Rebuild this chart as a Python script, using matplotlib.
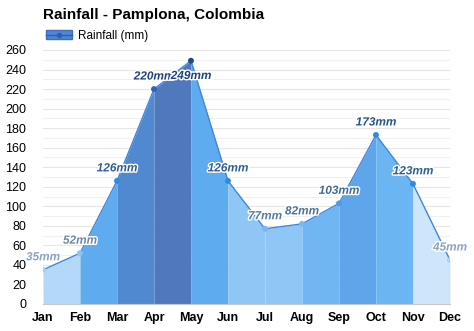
import matplotlib
matplotlib.use("Agg")
import matplotlib.pyplot as plt
import matplotlib.patheffects as pe
from matplotlib.lines import Line2D
from matplotlib.patches import Patch

months = ["Jan", "Feb", "Mar", "Apr", "May", "Jun", "Jul", "Aug", "Sep", "Oct", "Nov", "Dec"]
rain = [35, 52, 126, 220, 249, 126, 77, 82, 103, 173, 123, 45]
labels = [f"{v}mm" for v in rain]

# fill colour for each segment between two months
seg_colors = ["#b3d8f8", "#5eabef", "#5189d1", "#5079bd", "#5eabef", "#8ec6f5",
              "#8ec6f5", "#6fb6f3", "#5ea6e9", "#6bb5f3", "#cfe5f9"]
marker_colors = ["#a9cff2", "#8fc0ee", "#2d8ae2", "#2f64b3", "#1f4a86", "#2d8ae2",
                 "#7fb6ea", "#7fb6ea", "#4f9de6", "#2d8ae2", "#2d8ae2", "#a9cff2"]
label_colors = ["#8ca2bd", "#6f86a8", "#2f5d96", "#1f4280", "#1f4280", "#2f5d96",
                "#5a7aa0", "#4f6f99", "#3e6a9c", "#24528d", "#2f5d96", "#8ca2bd"]

plt.rcParams['font.family'] = ['Liberation Sans', 'DejaVu Sans']

fig = plt.figure(figsize=(4.74, 3.31), dpi=100)
ax = fig.add_axes([0.0907, 0.0816, 0.8586, 0.7674])

x = list(range(len(months)))
for i in range(len(months) - 1):
    ax.fill_between([x[i], x[i + 1]], [rain[i], rain[i + 1]], 0,
                    color=seg_colors[i], linewidth=0, zorder=2)
ax.plot(x, rain, color="#3f86dc", linewidth=1, zorder=3)
ax.scatter(x, rain, s=18, c=marker_colors, zorder=4, linewidths=0)

for i, (xi, v) in enumerate(zip(x, rain)):
    dy = -11 if v == max(rain) else 9
    ax.annotate(labels[i], (xi, v), xytext=(0, dy), textcoords="offset points",
                ha="center", va="center", fontsize=8.5, fontweight="bold",
                fontstyle="italic", color=label_colors[i], zorder=5,
                path_effects=[pe.withStroke(linewidth=2, foreground="white")])

ax.set_xlim(0, 11)
ax.set_ylim(0, 260)
ax.set_yticks(range(0, 261, 20))
ax.set_yticks(range(0, 261, 10), minor=True)
ax.set_xticks(x)
ax.set_xticklabels(months, fontweight="bold", fontsize=9)
ax.tick_params(axis="y", labelsize=9, length=0, pad=12, which="both")
ax.tick_params(axis="x", length=0, pad=6)
ax.grid(axis="y", which="major", color="#e6e6e6", linewidth=0.8, zorder=0)
ax.grid(axis="y", which="minor", color="#f0f0f0", linewidth=0.8, zorder=0)
for s in ["top", "right", "left"]:
    ax.spines[s].set_visible(False)
ax.spines["bottom"].set_color("#c8c8c8")

fig.text(0.0907, 0.955, "Rainfall - Pamplona, Colombia", fontsize=11,
         fontweight="bold", ha="left", va="center")
handle = (Patch(facecolor="#4f86d6", edgecolor="#3f6fb8"),
          Line2D([], [], color="#2f5fa8", marker="o", markersize=3, linewidth=1))
fig.legend([handle], ["Rainfall (mm)"], loc="center left",
           bbox_to_anchor=(0.075, 0.892), frameon=False, fontsize=8.5,
           handlelength=2.2, handletextpad=0.5)

fig.savefig("out.png", dpi=100, facecolor="white")
